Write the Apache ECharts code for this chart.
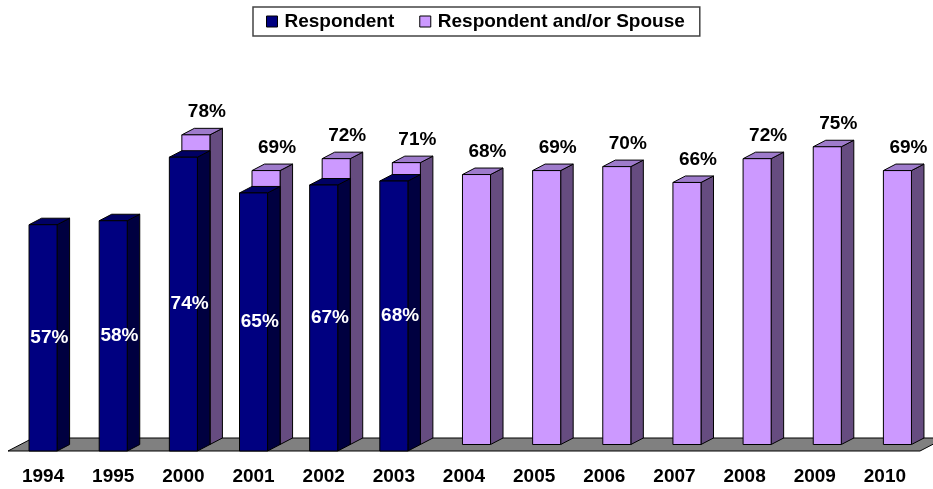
<!DOCTYPE html>
<html>
<head>
<meta charset="utf-8">
<script src="https://cdn.jsdelivr.net/npm/echarts@6/dist/echarts.min.js"></script>
<style>
html,body{margin:0;padding:0;background:#fff;}
#chart{width:933px;height:489px;}
</style>
</head>
<body>
<div id="chart"></div>
<script>
const categories = ['1994','1995','2000','2001','2002','2003','2004','2005','2006','2007','2008','2009','2010'];
const respondent = [57, 58, 74, 65, 67, 68, null, null, null, null, null, null, null];
const spouse = [null, null, 78, 69, 72, 71, 68, 69, 70, 66, 72, 75, 69];
const seriesNames = ['Respondent', 'Respondent and/or Spouse'];

const DX = 12.5, DY = -6.5;      // depth offset per row
const BAR_RATIO = 0.4;
const FONT = '"Liberation Sans", Arial, sans-serif';

const blueFaces = { front: '#000080', side: '#000040', top: '#000064' };
const purpleFaces = { front: '#CC99FF', side: '#664C80', top: '#9E7BCB' };

function toData(arr) {
  const out = [];
  arr.forEach((v, i) => { if (v != null) out.push([i, v]); });
  return out;
}

function barRenderer(row, faces, inside) {
  return function (params, api) {
    const i = api.value(0), v = api.value(1);
    const base = api.coord([i, 0]);
    const topP = api.coord([i, v]);
    const bw = api.size([1, 0])[0] * BAR_RATIO;
    const ox = row * DX, oy = row * DY;
    const x0 = base[0] - bw / 2 + ox, x1 = x0 + bw;
    const yb = base[1] + oy, yt = topP[1] + oy;
    const edge = { stroke: '#000', lineWidth: 1 };
    const children = [
      { type: 'polygon', shape: { points: [[x1, yb], [x1, yt], [x1 + DX, yt + DY], [x1 + DX, yb + DY]] },
        style: Object.assign({ fill: faces.side }, edge) },
      { type: 'polygon', shape: { points: [[x0, yt], [x1, yt], [x1 + DX, yt + DY], [x0 + DX, yt + DY]] },
        style: Object.assign({ fill: faces.top }, edge) },
      { type: 'rect', shape: { x: x0, y: yt, width: bw, height: yb - yt },
        style: Object.assign({ fill: faces.front }, edge) }
    ];
    if (inside) {
      children.push({ type: 'text', style: {
        text: v + '%', x: x0 + (bw + DX) / 2, y: (yt + yb) / 2,
        align: 'center', verticalAlign: 'middle',
        fill: '#fff', font: 'bold 19px ' + FONT } });
    } else {
      children.push({ type: 'text', style: {
        text: v + '%', x: x0 + bw / 2 + 11, y: yt - 23,
        align: 'center', verticalAlign: 'middle',
        fill: '#000', font: 'bold 19px ' + FONT } });
    }
    return { type: 'group', children: children };
  };
}

function floorRenderer(params, api) {
  const cs = params.coordSys;
  const yf = api.coord([0, 0])[1];
  const xl = cs.x, xr = cs.x + cs.width;
  return {
    type: 'polygon',
    shape: { points: [[xl, yf], [xr, yf], [xr + 2 * DX, yf + 2 * DY], [xl + 2 * DX, yf + 2 * DY]] },
    style: { fill: '#808080', stroke: '#000', lineWidth: 1 }
  };
}

const chart = echarts.init(document.getElementById('chart'), null, { renderer: 'canvas' });
chart.setOption({
  animation: false,
  backgroundColor: '#fff',
  legend: {
    left: 253, top: 7,
    padding: [5, 15, 5, 13],
    itemGap: 25,
    itemWidth: 11, itemHeight: 11,
    icon: 'rect',
    borderColor: '#444', borderWidth: 1.5,
    selectedMode: false,
    textStyle: { fontFamily: FONT, fontWeight: 'bold', fontSize: 19, color: '#000', lineHeight: 19, padding: [0, 0, 0, 2] },
    data: [
      { name: seriesNames[0], itemStyle: { color: blueFaces.front, borderColor: '#000', borderWidth: 1 } },
      { name: seriesNames[1], itemStyle: { color: purpleFaces.front, borderColor: '#000', borderWidth: 1 } }
    ]
  },
  grid: { left: 8, right: 13, top: 54, bottom: 38, containLabel: false },
  xAxis: {
    type: 'category',
    data: categories,
    axisLine: { show: false },
    axisTick: { show: false },
    axisLabel: { margin: 16, fontFamily: FONT, fontWeight: 'bold', fontSize: 19, color: '#000', lineHeight: 19, interval: 0 }
  },
  yAxis: {
    type: 'value', min: 0, max: 100, show: false,
    splitLine: { show: false }
  },
  series: [
    { name: 'floor', type: 'custom', z: 1, silent: true, data: [[0, 0]], encode: { x: 0, y: 1 }, renderItem: floorRenderer },
    { name: seriesNames[1], type: 'custom', z: 2, data: toData(spouse), encode: { x: 0, y: 1 },
      itemStyle: { color: purpleFaces.front }, renderItem: barRenderer(1, purpleFaces, false) },
    { name: seriesNames[0], type: 'custom', z: 3, data: toData(respondent), encode: { x: 0, y: 1 },
      itemStyle: { color: blueFaces.front }, renderItem: barRenderer(0, blueFaces, true) }
  ]
});
</script>
</body>
</html>
